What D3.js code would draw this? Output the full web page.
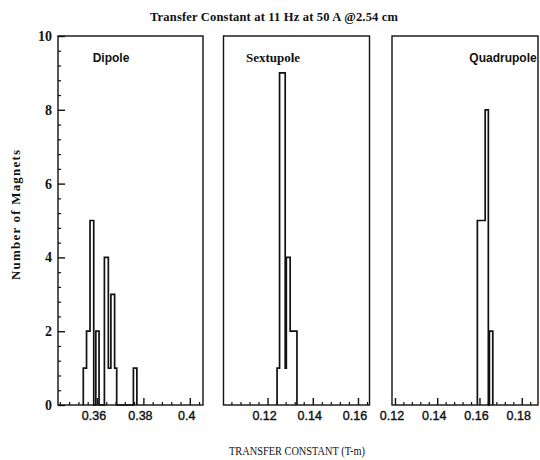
<!DOCTYPE html>
<html>
<head>
<meta charset="utf-8">
<script src="https://cdn.jsdelivr.net/npm/d3@7"></script>
<style>
  html, body { margin: 0; padding: 0; background: #fff; }
  svg { display: block; }
</style>
</head>
<body>
<svg id="chart" width="540" height="460"></svg>
<script>
// ---- data ----
const titleText = "Transfer Constant at 11 Hz at 50 A @2.54 cm";
const yTitle = "Number of Magnets";
const xTitle = "TRANSFER CONSTANT (T-m)";
const categories = ["Dipole", "Sextupole", "Quadrupole"];

// histogram step outlines: bin edges (T-m) and counts between consecutive edges
const dipoleEdges = [0.3541, 0.3555, 0.3570, 0.3586, 0.3595, 0.3609, 0.3632, 0.3649, 0.3660, 0.3676, 0.3685, 0.3757, 0.3772];
const dipoleCounts = [1, 2, 5, 0, 2, 0, 4, 1, 3, 1, 0, 1];
const sextupoleEdges = [0.1242, 0.1253, 0.1278, 0.1283, 0.1300, 0.1330];
const sextupoleCounts = [1, 9, 1, 4, 2];
const quadrupoleEdges = [0.1590, 0.1627, 0.1642, 0.1647, 0.1663];
const quadrupoleCounts = [5, 8, 0, 2];

const dipoleTicks = [0.36, 0.38, 0.40];
const dipoleTickLabels = ["0.36", "0.38", "0.4"];
const sextupoleTicks = [0.12, 0.14, 0.16];
const sextupoleTickLabels = ["0.12", "0.14", "0.16"];
const quadrupoleTicks = [0.12, 0.14, 0.16, 0.18];
const quadrupoleTickLabels = ["0.12", "0.14", "0.16", "0.18"];
const yTicks = [0, 2, 4, 6, 8, 10];
const yTickLabels = ["0", "2", "4", "6", "8", "10"];

// ---- layout ----
const svg = d3.select("#chart");
const yTop = 36, yBot = 405;
const y = d3.scaleLinear().domain([0, 10]).range([yBot, yTop]);

const panels = [
  { name: categories[0], edges: dipoleEdges, counts: dipoleCounts, ticks: dipoleTicks, labels: dipoleTickLabels,
    domain: [0.3432, 0.4057], range: [58, 203], minorStart: 0.344, minorEnd: 0.405,
    labelX: 111, labelFont: "'Liberation Sans', Arial, sans-serif" },
  { name: categories[1], edges: sextupoleEdges, counts: sextupoleCounts, ticks: sextupoleTicks, labels: sextupoleTickLabels,
    domain: [0.1005, 0.1651], range: [223.5, 369.5], minorStart: 0.104, minorEnd: 0.165,
    labelX: 273, labelFont: "'Liberation Serif', 'Times New Roman', serif" },
  { name: categories[2], edges: quadrupoleEdges, counts: quadrupoleCounts, ticks: quadrupoleTicks, labels: quadrupoleTickLabels,
    domain: [0.1186, 0.1877], range: [392, 538], minorStart: 0.12, minorEnd: 0.187,
    labelX: 503, labelFont: "'Liberation Sans', Arial, sans-serif" }
];

const stepLine = d3.line().x(d => d.sx).y(d => d.sy).curve(d3.curveStepAfter);

panels.forEach((p, pi) => {
  const x = d3.scaleLinear().domain(p.domain).range(p.range);
  const g = svg.append("g");

  // frame
  g.append("rect")
    .attr("x", p.range[0]).attr("y", yTop)
    .attr("width", p.range[1] - p.range[0]).attr("height", yBot - yTop)
    .attr("fill", "none").attr("stroke", "#111").attr("stroke-width", 1.4);

  // x minor ticks (inside)
  const minors = d3.range(p.minorStart, p.minorEnd + 1e-9, 0.004)
    .filter(v => !p.ticks.some(t => Math.abs(t - v) < 1e-6));
  const xMinorAxis = d3.axisTop(x).tickValues(minors).tickSize(3).tickFormat("");
  const gm = g.append("g").attr("transform", `translate(0,${yBot})`).call(xMinorAxis);
  gm.select(".domain").remove();
  gm.selectAll("line").attr("stroke", "#111").attr("stroke-width", 1.2);

  // x major ticks (inside)
  const xMajorAxis = d3.axisTop(x).tickValues(p.ticks).tickSize(7).tickFormat("");
  const gM = g.append("g").attr("transform", `translate(0,${yBot})`).call(xMajorAxis);
  gM.select(".domain").remove();
  gM.selectAll("line").attr("stroke", "#111").attr("stroke-width", 1.4);

  // x tick labels
  g.selectAll(".xl").data(p.ticks).enter().append("text")
    .attr("x", d => x(d) - 3).attr("y", 420)
    .attr("text-anchor", "middle")
    .attr("font-family", "'Liberation Sans', Arial, sans-serif")
    .attr("font-size", 12.5)
    .attr("fill", "#111").attr("stroke", "#111").attr("stroke-width", 0.4)
    .text((d, i) => p.labels[i]);

  // histogram step outline
  const pts = [{ sx: x(p.edges[0]), sy: y(0) }];
  p.counts.forEach((c, i) => pts.push({ sx: x(p.edges[i]), sy: y(c) }));
  pts.push({ sx: x(p.edges[p.edges.length - 1]), sy: y(0) });
  g.append("path")
    .attr("d", stepLine(pts))
    .attr("fill", "none").attr("stroke", "#111").attr("stroke-width", 1.7)
    .attr("stroke-linejoin", "miter");

  // panel label
  g.append("text")
    .attr("x", p.labelX).attr("y", 62)
    .attr("text-anchor", "middle")
    .attr("font-family", p.labelFont)
    .attr("font-weight", "bold")
    .attr("font-size", pi === 1 ? 13 : 12)
    .attr("fill", "#111")
    .text(p.name);

  // y axis on first panel only
  if (pi === 0) {
    const yMinor = d3.range(0, 10.0001, 0.4).filter(v => Math.abs(v / 2 - Math.round(v / 2)) > 1e-6);
    const gy = g.append("g").attr("transform", `translate(${p.range[0]},0)`)
      .call(d3.axisRight(y).tickValues(yMinor).tickSize(3).tickFormat(""));
    gy.select(".domain").remove();
    gy.selectAll("line").attr("stroke", "#111").attr("stroke-width", 1.2);
    const gy2 = g.append("g").attr("transform", `translate(${p.range[0]},0)`)
      .call(d3.axisRight(y).tickValues(yTicks).tickSize(7).tickFormat(""));
    gy2.select(".domain").remove();
    gy2.selectAll("line").attr("stroke", "#111").attr("stroke-width", 1.4);

    g.selectAll(".yl").data(yTicks).enter().append("text")
      .attr("x", 52).attr("y", d => y(d) + 5)
      .attr("text-anchor", "end")
      .attr("font-family", "'Liberation Serif', 'Times New Roman', serif")
      .attr("font-weight", "bold")
      .attr("font-size", 14)
      .attr("fill", "#111")
      .text((d, i) => yTickLabels[i]);
  }
});

// title
svg.append("text")
  .attr("x", 274).attr("y", 21)
  .attr("text-anchor", "middle")
  .attr("font-family", "'Liberation Serif', 'Times New Roman', serif")
  .attr("font-weight", "bold")
  .attr("font-size", 12.5)
  .attr("textLength", 248).attr("lengthAdjust", "spacing")
  .attr("fill", "#111")
  .text(titleText);

// y title
svg.append("text")
  .attr("transform", "translate(20,215) rotate(-90)")
  .attr("text-anchor", "middle")
  .attr("font-family", "'Liberation Serif', 'Times New Roman', serif")
  .attr("font-weight", "bold")
  .attr("font-size", 13)
  .attr("textLength", 130).attr("lengthAdjust", "spacing")
  .attr("fill", "#111")
  .text(yTitle);

// x title
svg.append("text")
  .attr("x", 297).attr("y", 455)
  .attr("text-anchor", "middle")
  .attr("font-family", "'Liberation Serif', 'Times New Roman', serif")
  .attr("font-size", 12)
  .attr("textLength", 136).attr("lengthAdjust", "spacingAndGlyphs")
  .attr("fill", "#111")
  .text(xTitle);
</script>
</body>
</html>
